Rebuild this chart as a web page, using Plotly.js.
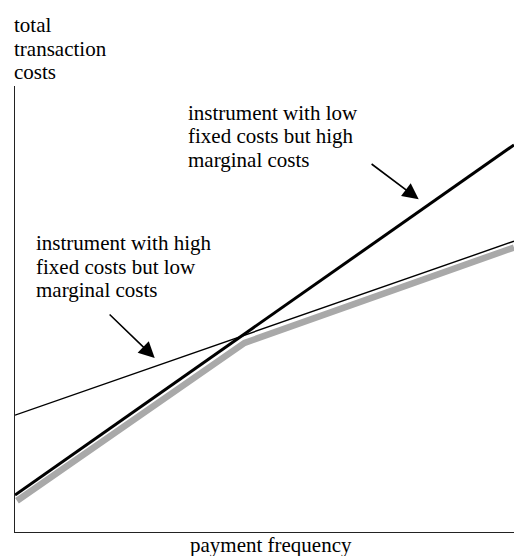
<!DOCTYPE html>
<html>
<head>
<meta charset="utf-8">
<script src="https://cdn.plot.ly/plotly-3.0.1.min.js"></script>
<style>html,body{margin:0;padding:0;background:#fff;}#chart{width:514px;height:556px;}</style>
</head>
<body>
<div id="chart"></div>
<script>
// ---- data (arbitrary units 0..100) ----
const frequency = [0, 100];
const lowFixedHighMarginal = [8.3, 86.8];   // thick black line
const highFixedLowMarginal = [26.2, 65.2];  // thin black line
const envelopeFreq = [0.4, 46, 100];        // grey lower envelope
const envelopeCost = [7.0, 42.4, 63.8];

const yLabelLines = ["total", "transaction", "costs"];
const xLabel = "payment frequency";
const noteLow = ["instrument with low", "fixed costs but high", "marginal costs"];
const noteHigh = ["instrument with high", "fixed costs but low", "marginal costs"];

// ---- layout helpers ----
const W = 514, H = 556;
const M = {l: 15, r: 0, t: 86, b: 24};
const PW = W - M.l - M.r, PH = H - M.t - M.b;
const px2paperX = px => (px - M.l) / PW;
const py2paperY = py => (H - M.b - py) / PH;
const FS = 21;
const DESC = 9.3; // baseline to box bottom

const font = {family: "Liberation Serif, Times New Roman, serif", size: FS, color: "#000"};

function textLine(txt, leftPx, baselinePx, anchor) {
  return {
    text: txt, showarrow: false, xref: "paper", yref: "paper",
    x: px2paperX(leftPx), y: py2paperY(baselinePx + DESC),
    xanchor: anchor || "left", yanchor: "bottom", font: font, align: "left"
  };
}

const annotations = [];
[30, 53.5, 76.7].forEach((b, i) => annotations.push(textLine(yLabelLines[i], 12, b)));
[117.3, 140.7, 164.3].forEach((b, i) => annotations.push(textLine(noteLow[i], 186, b)));
[247.7, 271.7, 295].forEach((b, i) => annotations.push(textLine(noteHigh[i], 34, b)));
annotations.push(textLine(xLabel, 270.5, 549.3, "center"));

// arrows
annotations.push({
  text: "", showarrow: true, xref: "x", yref: "y", x: 80.9, y: 74.6,
  ax: -48.6, ay: -36.4, arrowhead: 2, arrowsize: 2.0, arrowwidth: 1.6, arrowcolor: "#000", standoff: 0
});
annotations.push({
  text: "", showarrow: true, xref: "x", yref: "y", x: 28.0, y: 39.0,
  ax: -46.6, ay: -45, arrowhead: 2, arrowsize: 2.0, arrowwidth: 1.6, arrowcolor: "#000", standoff: 0
});

const traces = [
  {x: envelopeFreq, y: envelopeCost, mode: "lines", line: {color: "#a9a9a9", width: 6.5}, hoverinfo: "skip"},
  {x: frequency, y: highFixedLowMarginal, mode: "lines", line: {color: "#000", width: 1.4}, hoverinfo: "skip"},
  {x: frequency, y: lowFixedHighMarginal, mode: "lines", line: {color: "#000", width: 3}, hoverinfo: "skip"}
];

const axisCommon = {
  range: [0, 100], showgrid: false, zeroline: false, showticklabels: false, ticks: "",
  showline: true, linecolor: "#222", linewidth: 1, fixedrange: true
};

const layout = {
  width: W, height: H, margin: M, showlegend: false,
  paper_bgcolor: "#fff", plot_bgcolor: "#fff",
  xaxis: Object.assign({}, axisCommon),
  yaxis: Object.assign({}, axisCommon),
  annotations: annotations
};

Plotly.newPlot("chart", traces, layout, {displayModeBar: false, staticPlot: true});
</script>
</body>
</html>
